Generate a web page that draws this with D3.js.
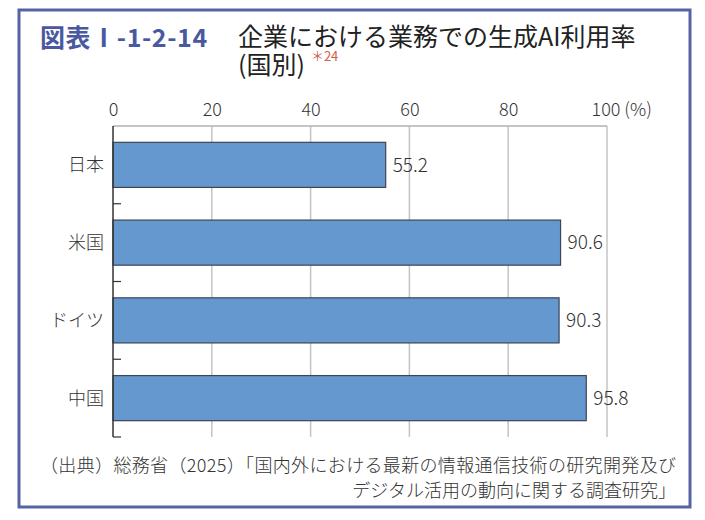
<!DOCTYPE html>
<html>
<head>
<meta charset="utf-8">
<script src="https://cdn.jsdelivr.net/npm/d3@7"></script>
<style>
    body { margin: 0; background: #fff; }
    text { font-family: "Noto Sans CJK JP", "Noto Sans", sans-serif; }
    .light { font-weight: 300; }
</style>
</head>
<body>
<svg id="chart" width="705" height="520"></svg>
<script>
// chart data
var categories = ['日本', '米国', 'ドイツ', '中国'];
var values = [55.2, 90.6, 90.3, 95.8];
var tickValues = [0, 20, 40, 60, 80, 100];
var tickLabels = ['0', '20', '40', '60', '80', '100 (%)'];

var figureNo = '図表Ⅰ-1-2-14';
var titleLines = ['企業における業務での生成AI利用率', '(国別)'];
var noteMark = '＊24';
var sourceLines = [
    '（出典）総務省（2025）「国内外における最新の情報通信技術の研究開発及び',
    'デジタル活用の動向に関する調査研究」'
];

var svg = d3.select('#chart');

// outer frame
svg.append('rect')
    .attr('x', 19).attr('y', 10)
    .attr('width', 671).attr('height', 497)
    .attr('fill', 'none')
    .attr('stroke', '#5762a3')
    .attr('stroke-width', 3);

// title
svg.append('text')
    .attr('x', 40).attr('y', 47)
    .attr('fill', '#4a58a0')
    .attr('font-size', 25)
    .attr('font-weight', 'bold')
    .attr('letter-spacing', 0.6)
    .text(figureNo);

// both title lines and the note mark in one text block
var title = svg.append('text')
    .attr('x', 238).attr('y', 46)
    .attr('fill', '#222')
    .attr('font-size', 25);
title.selectAll('.title-line')
    .data(titleLines)
    .enter().append('tspan')
        .attr('class', 'title-line')
        .attr('x', 238)
        .attr('dy', function(d, i) { return i === 0 ? 0 : 28; })
        .text(function(d) { return d; });
title.append('tspan')
    .attr('dx', 6)
    .attr('dy', -13)
    .attr('fill', '#d0604f')
    .attr('font-size', 13)
    .text(noteMark);

var margin = {left: 113, top: 126, right: 98, bottom: 83};
var width = 705 - margin.left - margin.right,
    height = 520 - margin.top - margin.bottom;

var x = d3.scaleLinear()
    .domain([0, 100])
    .range([0, width]);

var y = d3.scaleBand()
    .domain(categories)
    .range([0, height])
    .paddingInner(0.42)
    .paddingOuter(0.21);

var g = svg.append('g')
    .attr('transform', 'translate(' + margin.left + ',' + margin.top + ')');

// vertical grid
g.selectAll('.grid')
    .data(tickValues.slice(1))
    .enter().append('line')
        .attr('class', 'grid')
        .attr('x1', function(d) { return x(d); })
        .attr('x2', function(d) { return x(d); })
        .attr('y1', 0)
        .attr('y2', height)
        .attr('stroke', '#c4c4c4')
        .attr('stroke-width', 1.5);

// top line of plot area
g.append('line')
    .attr('x1', 0).attr('x2', width)
    .attr('y1', 0).attr('y2', 0)
    .attr('stroke', '#b0b0b0')
    .attr('stroke-width', 1.5);

// top axis labels
var xAxis = d3.axisTop(x)
    .tickValues(tickValues)
    .tickSize(0)
    .tickPadding(10)
    .tickFormat(function(d, i) { return tickLabels[i]; });

var xg = g.append('g').call(xAxis);
xg.select('.domain').remove();
xg.selectAll('text')
    .attr('class', 'light')
    .attr('font-size', 18)
    .attr('fill', '#333')
    .style('font-family', '"Noto Sans CJK JP", sans-serif');
// "100 (%)" sits with the number centred on the gridline
xg.selectAll('.tick text')
    .filter(function(d) { return d === 100; })
    .attr('text-anchor', 'start')
    .attr('dx', -16);

// bars
g.selectAll('.bar')
    .data(values)
    .enter().append('rect')
        .attr('class', 'bar')
        .attr('x', 0)
        .attr('y', function(d, i) { return y(categories[i]); })
        .attr('width', function(d) { return x(d); })
        .attr('height', y.bandwidth())
        .attr('fill', '#6598cf')
        .attr('stroke', '#3b4556')
        .attr('stroke-width', 1.2);

// value labels
g.selectAll('.value')
    .data(values)
    .enter().append('text')
        .attr('class', 'value light')
        .attr('x', function(d) { return x(d) + 7; })
        .attr('y', function(d, i) { return y(categories[i]) + y.bandwidth() / 2; })
        .attr('dy', '0.36em')
        .attr('font-size', 19)
        .attr('fill', '#333')
        .text(function(d) { return d.toFixed(1); });

// left axis with ticks between categories
var step = y.step();
var boundaries = categories.map(function(d) {
    return y(d) - y.paddingInner() * step / 2 + step;
});

g.append('line')
    .attr('x1', 0).attr('x2', 0)
    .attr('y1', 0).attr('y2', height)
    .attr('stroke', '#333')
    .attr('stroke-width', 1.5);

g.selectAll('.cat-tick')
    .data(boundaries)
    .enter().append('line')
        .attr('class', 'cat-tick')
        .attr('x1', 0).attr('x2', 8)
        .attr('y1', function(d) { return d; })
        .attr('y2', function(d) { return d; })
        .attr('stroke', '#333')
        .attr('stroke-width', 1.2);

g.selectAll('.cat-label')
    .data(categories)
    .enter().append('text')
        .attr('class', 'cat-label light')
        .attr('x', -9)
        .attr('y', function(d) { return y(d) + y.bandwidth() / 2; })
        .attr('dy', '0.36em')
        .attr('text-anchor', 'end')
        .attr('font-size', 18)
        .attr('fill', '#333')
        .text(function(d) { return d; });

// source
svg.selectAll('.source')
    .data(sourceLines)
    .enter().append('text')
        .attr('class', 'source light')
        .attr('x', 676)
        .attr('y', function(d, i) { return 472 + i * 25; })
        .attr('text-anchor', 'end')
        .attr('font-size', 18)
        .attr('fill', '#333')
        .attr('textLength', function(d, i) { return i === 0 ? 636 : null; })
        .attr('lengthAdjust', 'spacing')
        .text(function(d) { return d; });
</script>
</body>
</html>
